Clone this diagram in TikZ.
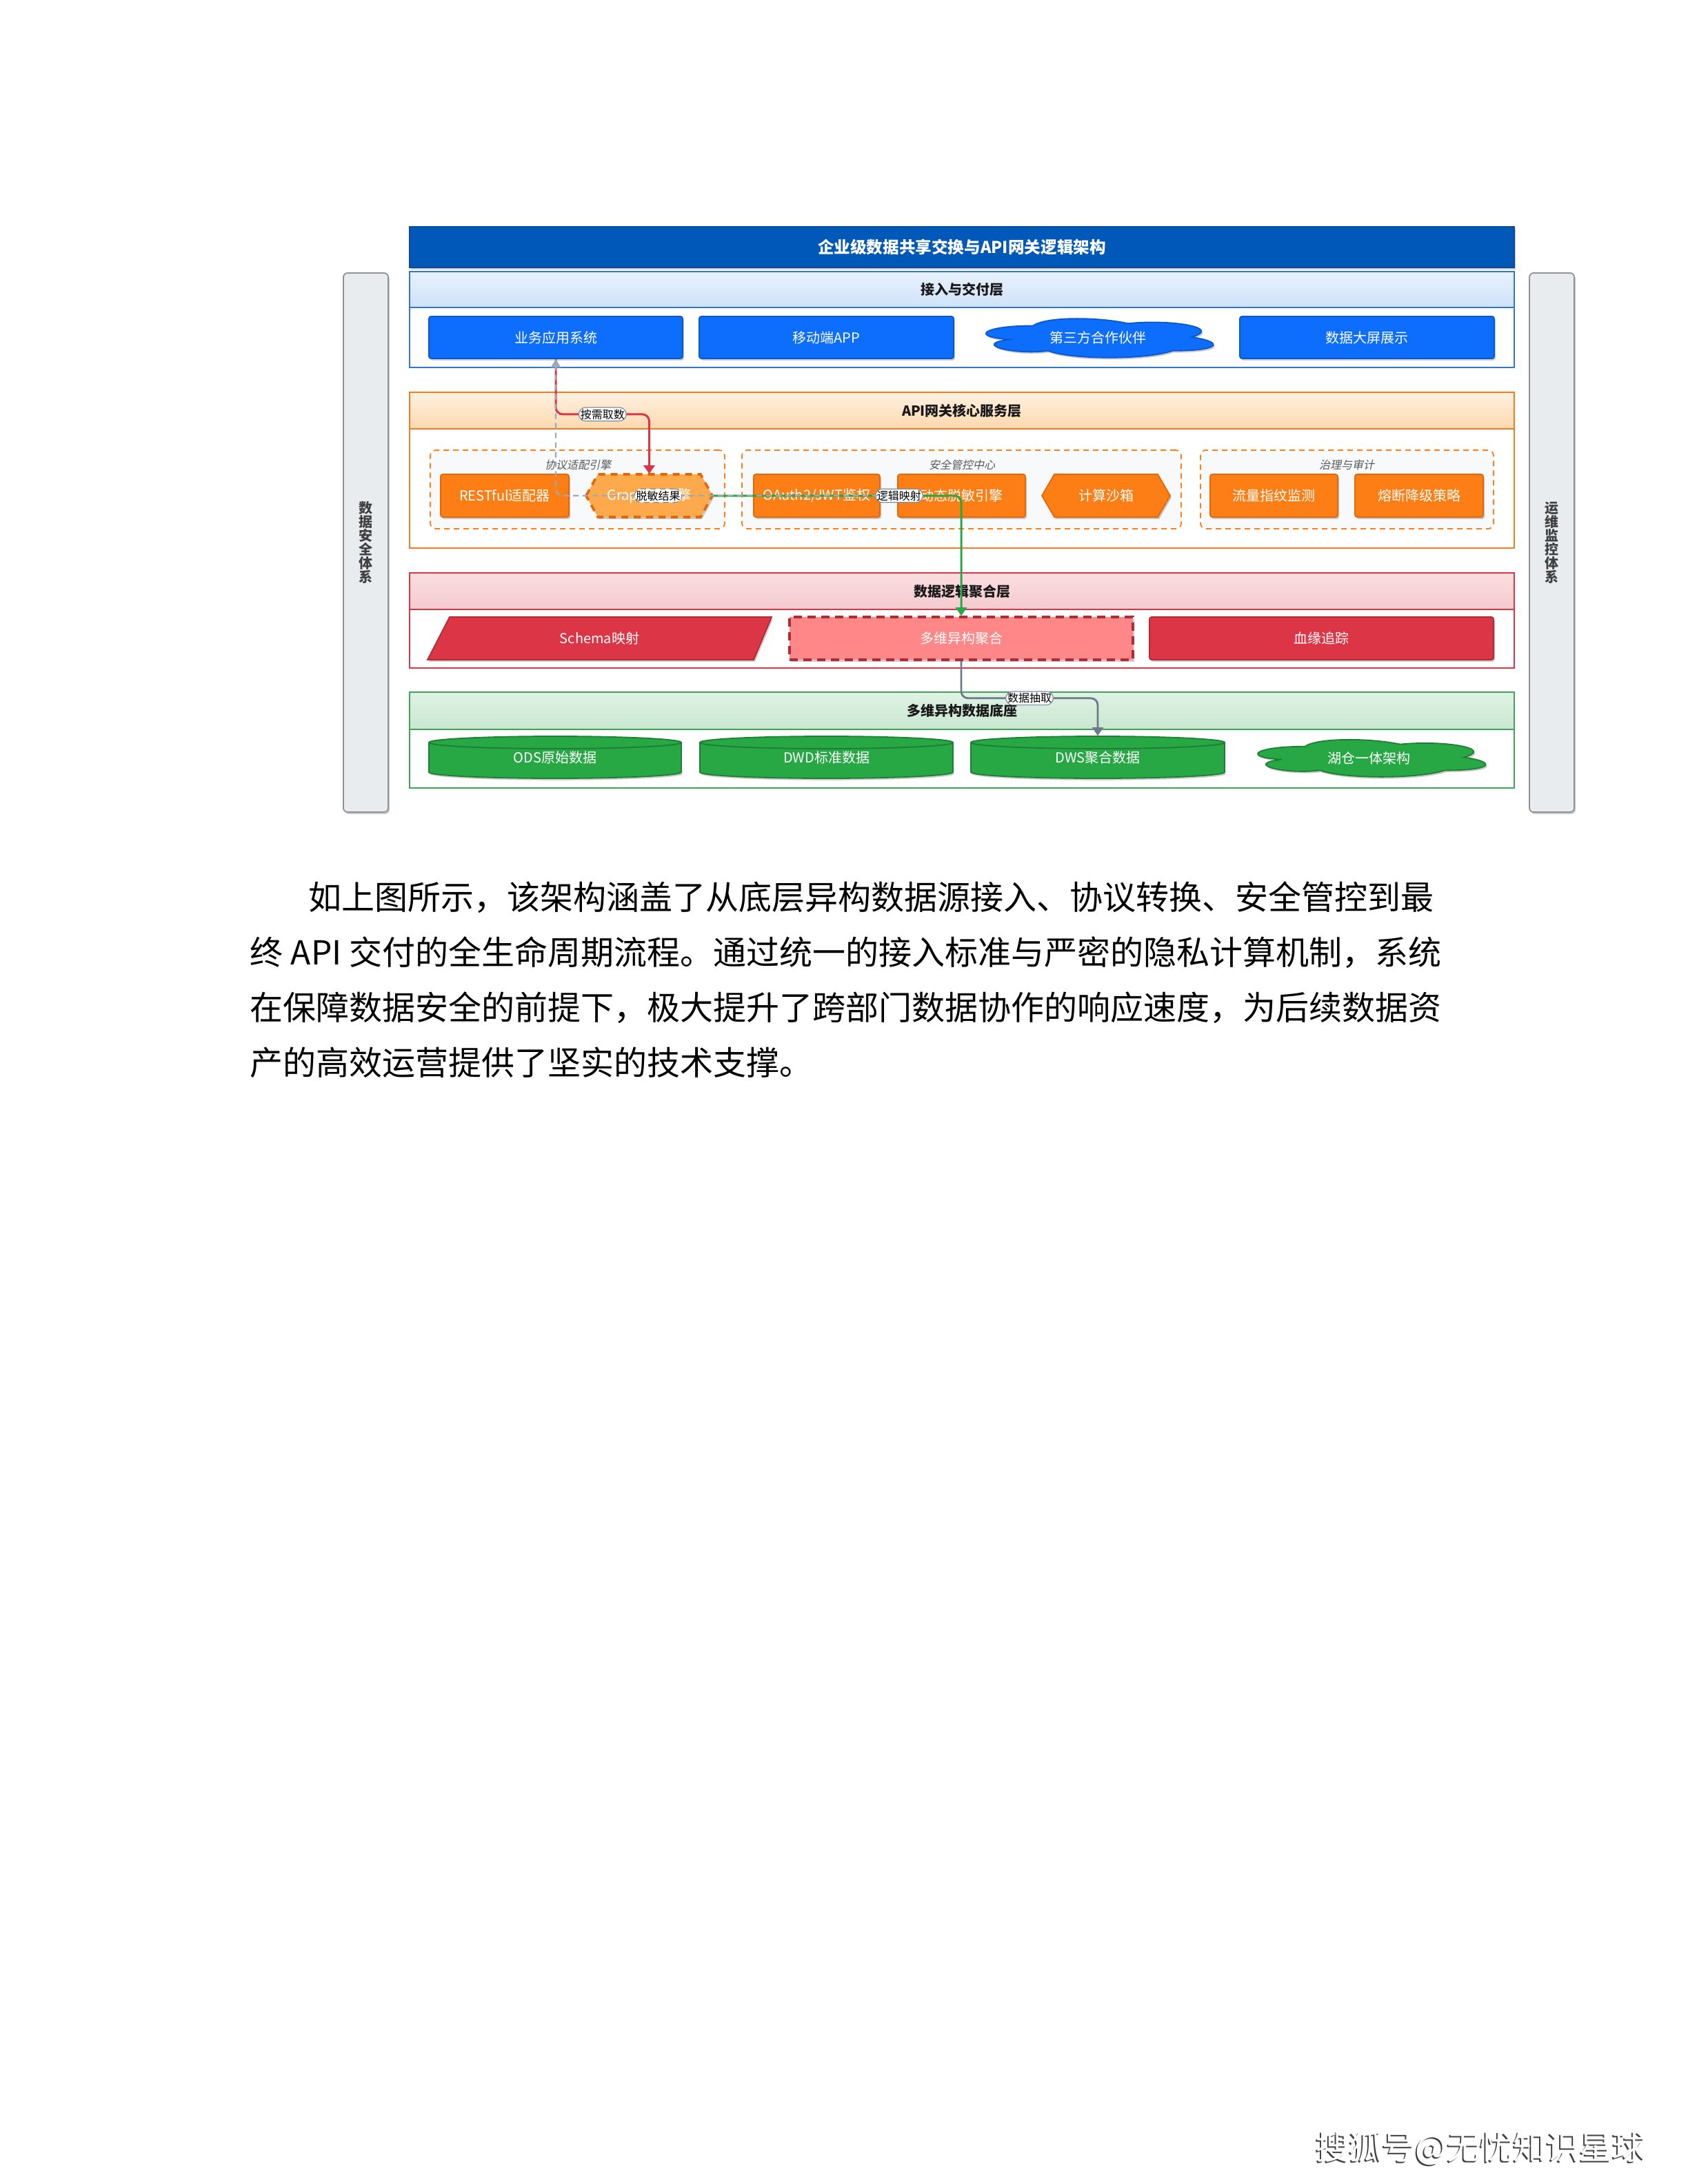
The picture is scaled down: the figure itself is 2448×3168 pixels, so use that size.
\documentclass[tikz,border=0pt]{standalone}
\usepackage{fontspec}
\setmainfont{Noto Sans CJK SC}
\newfontfamily\slfont[FakeSlant=0.22]{Noto Sans CJK SC}
\usetikzlibrary{shadows,arrows.meta}
\definecolor{titleblue}{HTML}{0058B9}
\definecolor{titleborder}{HTML}{0A4A9A}
\definecolor{blueA}{HTML}{0D6EFD}
\definecolor{blueB}{HTML}{0A58CA}
\definecolor{orangeA}{HTML}{FD7E14}
\definecolor{orangeB}{HTML}{E2680C}
\definecolor{orangeL}{HTML}{FFA94D}
\definecolor{redA}{HTML}{DC3545}
\definecolor{redB}{HTML}{B32A37}
\definecolor{redL}{HTML}{FF8787}
\definecolor{greenA}{HTML}{28A745}
\definecolor{greenB}{HTML}{1E7E34}
\definecolor{sideF}{HTML}{E9ECEF}
\definecolor{sideB}{HTML}{8E9297}
\definecolor{grpF}{HTML}{F8F9FA}
\definecolor{lblB}{HTML}{7F8FA0}
\definecolor{dashG}{HTML}{9AAABB}
\definecolor{slate}{HTML}{6C7A89}
\definecolor{h1t}{HTML}{E8F1FC}
\definecolor{h1b}{HTML}{CFE2F8}
\definecolor{h1d}{HTML}{2F78D2}
\definecolor{h2t}{HTML}{FFF1E2}
\definecolor{h2b}{HTML}{FCD8AE}
\definecolor{h2d}{HTML}{F27C22}
\definecolor{h3t}{HTML}{FADDE0}
\definecolor{h3b}{HTML}{F4CBCF}
\definecolor{h4t}{HTML}{E0F2E5}
\definecolor{h4b}{HTML}{C9E7D1}
\definecolor{h4d}{HTML}{3AA656}
\newcommand\fs[1]{\fontsize{#1pt}{#1pt}\selectfont}
\tikzset{
  shad/.style={drop shadow={shadow xshift=0.5pt,shadow yshift=-0.7pt,opacity=0.2,fill=black}},
  bluebox/.style={draw=blueB, fill=blueA, line width=0.45pt, rounded corners=0.8pt, text=white, font=\fs{5}, shad},
  orabox/.style={draw=orangeB, fill=orangeA, line width=0.45pt, rounded corners=0.8pt, text=white, font=\fs{5}, shad},
  redbox/.style={draw=redB, fill=redA, line width=0.45pt, rounded corners=0.8pt, text=white, font=\fs{5}, shad},
  txtonly/.style={text=white, font=\fs{5}},
  grpbox/.style={draw=orangeA, fill=grpF, dashed, dash pattern=on 2pt off 1.5pt, line width=0.45pt, rounded corners=2pt},
  grplbl/.style={font=\slfont\fs{4}, text=black!65},
  hdrlbl/.style={font=\bfseries\fs{5}, text=black!90},
  sidebar/.style={draw=sideB, fill=sideF, line width=0.45pt, rounded corners=1.5pt, shad, align=center, font=\bfseries\fontsize{5pt}{5pt}\selectfont, text=black!75},
  lbl/.style={draw=lblB, fill=white, line width=0.3pt, inner sep=0.6pt, font=\fs{4}, text=black},
  redline/.style={draw=redA, line width=0.75pt, rounded corners=2.5pt, -{Triangle[length=3pt,width=4pt]}},
  greenline/.style={draw=greenA, line width=0.75pt, rounded corners=2.5pt, -{Triangle[length=3pt,width=4pt]}},
  graydash/.style={draw=dashG, line width=0.6pt, dash pattern=on 2pt off 1.5pt, rounded corners=2.5pt, -{Triangle[length=3pt,width=3.5pt]}},
  slateline/.style={draw=slate, line width=0.7pt, rounded corners=2.5pt, -{Triangle[length=3pt,width=4pt]}},
}
% name, x0, y0, x1, y1, style, text
\newcommand\mkbox[7]{\node[#6, minimum width={(#4-#2)*0.25pt}, minimum height={(#5-#3)*0.25pt}, inner sep=0pt] (#1) at ({(#2+#4)/2},{(#3+#5)/2}) {#7};}
% y0, y1, yh, topcol, botcol, border, name, text
\newcommand\mklayer[8]{%
  \draw[draw=#6, line width=0.6pt, fill=white] (594,#1) rectangle (2196,#2);
  \draw[draw=#6, line width=0.6pt, top color=#4, bottom color=#5] (594,#1) rectangle (2196,#3);
  \node[hdrlbl] (#7) at (1395,{(#1+#3)/2}) {#8};}
% x0 y0 x1 y1
\newcommand\mkcyl[4]{%
  \path[fill=greenA, draw=greenB, line width=0.45pt, shad] ({(#1+#3)/2},{#4-9}) ellipse [x radius={(#3-#1)*0.125pt}, y radius=2.25pt];
  \fill[greenA] (#1,{#2+9}) rectangle (#3,{#4-9});
  \draw[greenB, line width=0.45pt] (#1,{#2+9}) -- (#1,{#4-9}) (#3,{#2+9}) -- (#3,{#4-9});
  \path[fill=greenA, draw=greenB, line width=0.45pt] ({(#1+#3)/2},{#2+9}) ellipse [x radius={(#3-#1)*0.125pt}, y radius=2.25pt];}
% cloud (draw.io style): x0 y0 w h fill draw
\newcommand\mkcloud[6]{%
  \path[fill=#5, draw=#6, line width=0.45pt, shad]
    ({#1+0.25*#3},{#2+0.25*#4})
    .. controls ({#1+0.05*#3},{#2+0.25*#4}) and ({#1},{#2+0.5*#4}) .. ({#1+0.16*#3},{#2+0.55*#4})
    .. controls ({#1},{#2+0.66*#4}) and ({#1+0.18*#3},{#2+0.9*#4}) .. ({#1+0.31*#3},{#2+0.8*#4})
    .. controls ({#1+0.4*#3},{#2+#4}) and ({#1+0.7*#3},{#2+#4}) .. ({#1+0.8*#3},{#2+0.8*#4})
    .. controls ({#1+#3},{#2+0.8*#4}) and ({#1+#3},{#2+0.6*#4}) .. ({#1+0.875*#3},{#2+0.5*#4})
    .. controls ({#1+#3},{#2+0.3*#4}) and ({#1+0.8*#3},{#2+0.1*#4}) .. ({#1+0.625*#3},{#2+0.2*#4})
    .. controls ({#1+0.5*#3},{#2+0.05*#4}) and ({#1+0.3*#3},{#2+0.05*#4}) .. ({#1+0.25*#3},{#2+0.25*#4})
    -- cycle;}
\begin{document}
\begin{tikzpicture}[x=0.25pt, y=-0.25pt]
\useasboundingbox (0,0) rectangle (2448,3168);
\fill[white] (0,0) rectangle (2448,3168);

% side bars
\mkbox{secsys}{498}{396}{563}{1178}{sidebar}{数\\据\\安\\全\\体\\系}
\mkbox{opsys}{2218}{396}{2283}{1178}{sidebar}{运\\维\\监\\控\\体\\系}

% title
\mkbox{title}{594}{329}{2196}{388}{draw=titleborder, fill=titleblue, line width=0.5pt, text=white, font=\bfseries\fs{5.9}, shad}{企业级数据共享交换与API网关逻辑架构}

% layers
\mklayer{394}{533}{446}{h1t}{h1b}{h1d}{hdr1}{接入与交付层}
\mklayer{569}{795}{622}{h2t}{h2b}{h2d}{hdr2}{API网关核心服务层}
\mklayer{831}{969}{884}{h3t}{h3b}{redA}{hdr3}{数据逻辑聚合层}
\mklayer{1004}{1143}{1058}{h4t}{h4b}{h4d}{hdr4}{多维异构数据底座}

% layer 1 boxes
\mkbox{app1}{622}{459}{990}{520}{bluebox}{业务应用系统}
\mkbox{app2}{1014}{459}{1383}{520}{bluebox}{移动端APP}
\mkcloud{1406}{456}{368}{66}{blueA}{blueB}
\node[txtonly] (partner) at (1592,489.5) {第三方合作伙伴};
\mkbox{app4}{1798}{459}{2167}{520}{bluebox}{数据大屏展示}

% groups
\mkbox{g1}{624}{653}{1051}{767}{grpbox}{}
\mkbox{g2}{1076}{653}{1713}{767}{grpbox}{}
\mkbox{g3}{1741}{653}{2166}{767}{grpbox}{}
\node[grplbl] (g1l) at (838,674) {协议适配引擎};
\node[grplbl] (g2l) at (1395,674) {安全管控中心};
\node[grplbl] (g3l) at (1953,674) {治理与审计};

% layer 2 boxes
\mkbox{rest}{639}{688}{825}{750}{orabox}{RESTful适配器}
\path[fill=orangeL, draw=orangeB, line width=0.9pt, dash pattern=on 2.5pt off 2pt, shad] (850,719) -- (867,688) -- (1016,688) -- (1033,719) -- (1016,750) -- (867,750) -- cycle;
\mkbox{graphql}{850}{688}{1033}{750}{txtonly}{GraphQL引擎}
\mkbox{oauth}{1093}{688}{1276}{750}{orabox}{OAuth2/JWT鉴权}
\mkbox{mask}{1302}{688}{1487}{750}{orabox}{动态脱敏引擎}
\path[fill=orangeA, draw=orangeB, line width=0.45pt, shad] (1511,719) -- (1529,688) -- (1679,688) -- (1697,719) -- (1679,750) -- (1529,750) -- cycle;
\mkbox{sandbox}{1511}{688}{1697}{750}{txtonly}{计算沙箱}
\mkbox{flow}{1755}{688}{1940}{750}{orabox}{流量指纹监测}
\mkbox{fuse}{1965}{688}{2151}{750}{orabox}{熔断降级策略}

% layer 3 boxes
\path[fill=redA, draw=redB, line width=0.45pt, shad] (652,895) -- (1119,895) -- (1093,957) -- (620,957) -- cycle;
\mkbox{schema}{620}{895}{1119}{957}{txtonly}{Schema映射}
\mkbox{agg}{1145}{895}{1643}{957}{draw=redB, fill=redL, line width=0.9pt, dash pattern=on 3pt off 2pt, text=white, font=\fs{5}, shad}{多维异构聚合}
\mkbox{lineage}{1667}{895}{2166}{957}{redbox}{血缘追踪}

% layer 4
\mkcyl{622}{1068}{988}{1129}
\mkcyl{1015}{1068}{1382}{1129}
\mkcyl{1408}{1068}{1776}{1129}
\mkbox{ods}{622}{1068}{988}{1129}{txtonly}{ODS原始数据}
\mkbox{dwd}{1015}{1068}{1382}{1129}{txtonly}{DWD标准数据}
\mkbox{dws}{1408}{1068}{1776}{1129}{txtonly}{DWS聚合数据}
\mkcloud{1800}{1067}{369}{63}{greenA}{greenB}
\node[txtonly] (lake) at (1985,1100) {湖仓一体架构};

% connectors
\draw[redline] (app1.south) -- ++(0,80) -| node[lbl, pos=0.25] (l1) {按需取数} (graphql.north);
\draw[greenline] (graphql.east) -| node[lbl, pos=0.375] (l3) {逻辑映射} (agg.north);
\draw[graydash] (mask.west) -| node[lbl, pos=0.35] (l2) {脱敏结果} (app1.south);
\draw[slateline] (agg.south) -- ++(0,54) -| node[lbl, pos=0.25] (l4) {数据抽取} (dws.north);

% paragraph
\node[anchor=base west, font=\fs{12}, inner sep=0pt] (p1) at (447,1319) {如上图所示，该架构涵盖了从底层异构数据源接入、协议转换、安全管控到最};
\node[anchor=base west, font=\fs{12}, inner sep=0pt] (p2) at (362,1399) {终\makebox[24pt]{API}交付的全生命周期流程。通过统一的接入标准与严密的隐私计算机制，系统};
\node[anchor=base west, font=\fs{12}, inner sep=0pt] (p3) at (362,1479) {在保障数据安全的前提下，极大提升了跨部门数据协作的响应速度，为后续数据资};
\node[anchor=base west, font=\fs{12}, inner sep=0pt] (p4) at (362,1559) {产的高效运营提供了坚实的技术支撑。};

% footer
\node[anchor=base west, font=\fs{12}, inner sep=0pt, text=black!75] (footsh) at (1906,3134) {搜狐号@无忧知识星球};
\node[anchor=base west, font=\fs{12}, inner sep=0pt, text=white] (foot) at (1908,3132) {搜狐号@无忧知识星球};
\end{tikzpicture}
\end{document}
